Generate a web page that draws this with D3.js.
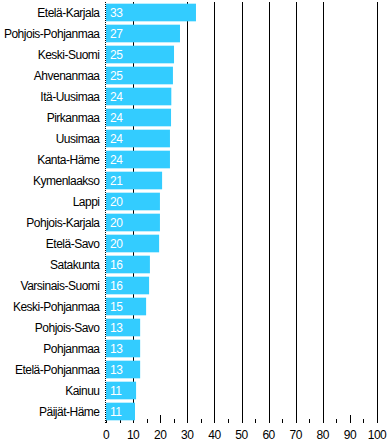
<!DOCTYPE html>
<html><head><meta charset="utf-8">
<script src="https://cdn.jsdelivr.net/npm/d3@7"></script>
<style>
html,body{margin:0;padding:0;background:#fff;}
text{font-family:"Liberation Sans",Arial,sans-serif;font-size:12px;letter-spacing:-0.5px;}
</style></head>
<body><svg id="c" width="388" height="444"></svg>
<script>
const regions = ["Etelä-Karjala","Pohjois-Pohjanmaa","Keski-Suomi","Ahvenanmaa","Itä-Uusimaa","Pirkanmaa","Uusimaa","Kanta-Häme","Kymenlaakso","Lappi","Pohjois-Karjala","Etelä-Savo","Satakunta","Varsinais-Suomi","Keski-Pohjanmaa","Pohjois-Savo","Pohjanmaa","Etelä-Pohjanmaa","Kainuu","Päijät-Häme"];
const values = [33.2,27.3,25.1,24.7,24.1,24.0,23.6,23.6,20.7,19.9,19.9,19.6,16.2,15.9,14.8,12.6,12.6,12.6,11.1,10.7];
const labels = [33,27,25,25,24,24,24,24,21,20,20,20,16,16,15,13,13,13,11,11];
const majorTicks = [0,10,20,30,40,50,60,70,80,90,100];
const minorTicks = [5,15,25,35,45,55,65,75,85,95];
const gridTicks = [10,30,40,50,60,70,80,100];

const svg = d3.select("#c");
const x = d3.scaleLinear().domain([0,100]).range([106,377]);
const y = d3.scaleBand().domain(regions).range([2,422]).paddingInner(0.16).paddingOuter(0.08);
const axisBottom = 423;

// gridlines
svg.append("g").selectAll("line").data(gridTicks).join("line")
  .attr("x1",d=>Math.round(x(d))+0.5).attr("x2",d=>Math.round(x(d))+0.5)
  .attr("y1",2).attr("y2",axisBottom)
  .attr("stroke","#000").attr("stroke-width",1);

// major ticks
svg.append("g").selectAll("line").data(majorTicks).join("line")
  .attr("x1",d=>Math.round(x(d))+0.5).attr("x2",d=>Math.round(x(d))+0.5)
  .attr("y1",415).attr("y2",axisBottom).attr("stroke","#000");
// minor ticks
svg.append("g").selectAll("line").data(minorTicks).join("line")
  .attr("x1",d=>Math.round(x(d))+0.5).attr("x2",d=>Math.round(x(d))+0.5)
  .attr("y1",419).attr("y2",axisBottom).attr("stroke","#000");

// dotted left axis
svg.append("line").attr("x1",105.5).attr("x2",105.5).attr("y1",2).attr("y2",axisBottom)
  .attr("stroke","#000").attr("stroke-dasharray","1,1");

// bars
svg.append("g").selectAll("rect").data(regions).join("rect")
  .attr("x",x(0)).attr("y",d=>y(d))
  .attr("width",(d,i)=>x(values[i])-x(0)).attr("height",y.bandwidth())
  .attr("fill","#33CCFF");

// value labels
svg.append("g").selectAll("text").data(regions).join("text")
  .attr("x",x(0)+4).attr("y",d=>y(d)+y.bandwidth()/2+4.5)
  .attr("fill","#fff").text((d,i)=>labels[i]);

// category labels
svg.append("g").selectAll("text").data(regions).join("text")
  .attr("x",99.5).attr("y",d=>y(d)+y.bandwidth()/2+4.5)
  .attr("text-anchor","end").attr("fill","#000").text(d=>d);

// tick labels
svg.append("g").selectAll("text").data(majorTicks).join("text")
  .attr("x",d=>x(d)).attr("y",439).attr("text-anchor","middle")
  .attr("fill","#000").text(d=>d);
</script></body></html>
